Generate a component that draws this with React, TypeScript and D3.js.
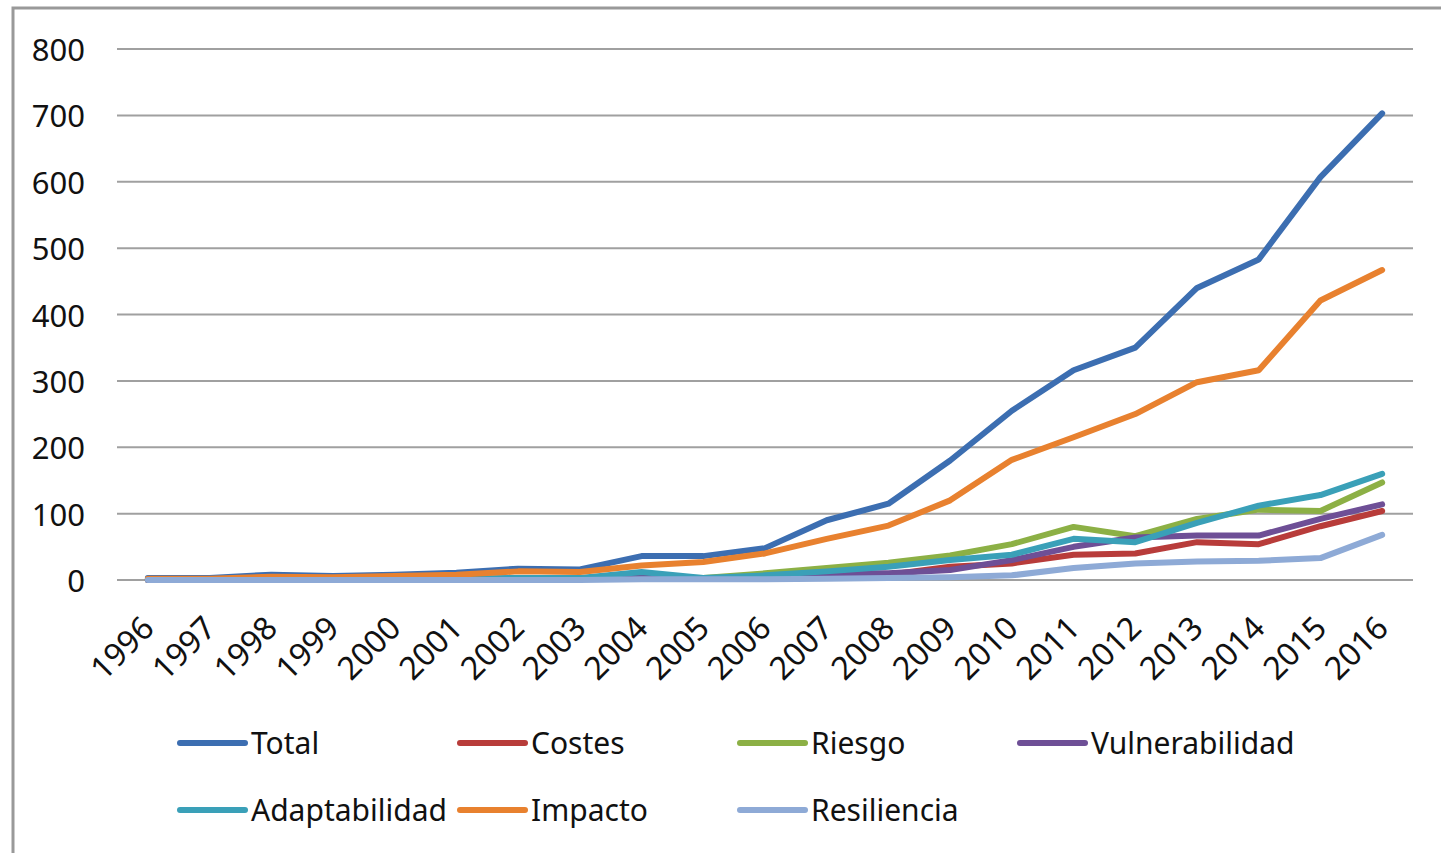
import { useEffect, useRef } from 'react';
import * as d3 from 'd3';

const YEARS = ['1996', '1997', '1998', '1999', '2000', '2001', '2002', '2003', '2004', '2005', '2006',
  '2007', '2008', '2009', '2010', '2011', '2012', '2013', '2014', '2015', '2016'];

const TOTAL = [3, 3, 8, 6, 8, 11, 17, 16, 36, 36, 48, 90, 115, 180, 255, 316, 350, 440, 483, 607, 703];
const COSTES = [0, 0, 1, 1, 1, 1, 2, 2, 3, 2, 3, 5, 8, 20, 25, 38, 40, 57, 54, 81, 104];
const RIESGO = [0, 0, 1, 1, 1, 1, 2, 2, 5, 3, 10, 18, 26, 37, 54, 80, 66, 92, 106, 104, 147];
const VULNERABILIDAD = [0, 0, 1, 1, 1, 1, 2, 2, 3, 2, 5, 10, 10, 15, 30, 50, 64, 67, 67, 92, 114];
const ADAPTABILIDAD = [1, 1, 1, 1, 1, 2, 3, 3, 12, 3, 7, 13, 20, 30, 38, 62, 57, 86, 112, 128, 160];
const IMPACTO = [2, 2, 5, 4, 6, 8, 13, 12, 22, 27, 40, 62, 82, 120, 181, 215, 250, 298, 316, 421, 467];
const RESILIENCIA = [0, 0, 0, 0, 0, 0, 0, 0, 1, 1, 1, 2, 3, 4, 7, 18, 25, 28, 29, 33, 68];

const Y_TICKS = [0, 100, 200, 300, 400, 500, 600, 700, 800];

// draw order matches the original (later on top)
const SERIES = [
  { name: 'Total', color: '#3c6eb1', values: TOTAL },
  { name: 'Costes', color: '#b83c3a', values: COSTES },
  { name: 'Riesgo', color: '#8cb045', values: RIESGO },
  { name: 'Vulnerabilidad', color: '#6e4f96', values: VULNERABILIDAD },
  { name: 'Adaptabilidad', color: '#3aa0b8', values: ADAPTABILIDAD },
  { name: 'Impacto', color: '#e8812f', values: IMPACTO },
  { name: 'Resiliencia', color: '#8eaad6', values: RESILIENCIA },
];

const FONT = '"Noto Sans", "Open Sans", sans-serif';

function drawChart(svg: SVGSVGElement) {
  const el = d3.select(svg);
  el.selectAll('*').remove();

  const width = 1441;
  const height = 853;
  const left = 117, right = 1413, top = 49, bottom = 580;

  el.append('rect')
    .attr('x', 13).attr('y', 8)
    .attr('width', width + 20).attr('height', height + 20)
    .attr('fill', '#fff').attr('stroke', '#999').attr('stroke-width', 3);

  const x = d3.scalePoint<string>().domain(YEARS).range([left, right]).padding(0.5);
  const y = d3.scaleLinear().domain([0, 800]).range([bottom, top]);

  const grid = el.append('g');
  grid.selectAll('line').data(Y_TICKS).join('line')
    .attr('x1', left).attr('x2', right)
    .attr('y1', (d) => y(d)).attr('y2', (d) => y(d))
    .attr('stroke', '#a0a0a0').attr('stroke-width', 2);

  grid.selectAll('text').data(Y_TICKS).join('text')
    .attr('x', 85).attr('y', (d) => y(d))
    .attr('text-anchor', 'end').attr('dominant-baseline', 'central')
    .attr('font-family', FONT).attr('font-size', 31).attr('fill', '#111')
    .text((d) => String(d));

  el.append('g').selectAll('text').data(YEARS).join('text')
    .attr('transform', (d) => `translate(${(x(d) ?? 0) + 8},630) rotate(-45)`)
    .attr('text-anchor', 'end')
    .attr('font-family', FONT).attr('font-size', 32).attr('fill', '#111')
    .text((d) => d);

  const line = d3.line<number>()
    .x((_, i) => x(YEARS[i]) ?? 0)
    .y((d) => y(d));

  for (const s of SERIES) {
    el.append('path')
      .datum(s.values)
      .attr('fill', 'none')
      .attr('stroke', s.color)
      .attr('stroke-width', 6)
      .attr('stroke-linejoin', 'round')
      .attr('stroke-linecap', 'round')
      .attr('d', line);
  }

  // legend, 4 per row
  const legend = el.append('g');
  SERIES.forEach((s, i) => {
    const lx = 180 + (i % 4) * 280;
    const ly = i < 4 ? 743 : 810;
    legend.append('line')
      .attr('x1', lx).attr('x2', lx + 65).attr('y1', ly).attr('y2', ly)
      .attr('stroke', s.color).attr('stroke-width', 6).attr('stroke-linecap', 'round');
    legend.append('text')
      .attr('x', lx + 71).attr('y', ly + 11)
      .attr('font-family', FONT).attr('font-size', 30).attr('fill', '#111')
      .text(s.name);
  });
}

export default function App() {
  const svgRef = useRef<SVGSVGElement>(null);

  useEffect(() => {
    if (!svgRef.current) return;
    drawChart(svgRef.current);
  }, []);

  return (
    <div style={{ position: 'absolute', left: 0, top: 0, width: 1441, height: 853, overflow: 'hidden', background: '#fff' }}>
      <svg ref={svgRef} width={1441} height={853} style={{ display: 'block' }} />
    </div>
  );
}
